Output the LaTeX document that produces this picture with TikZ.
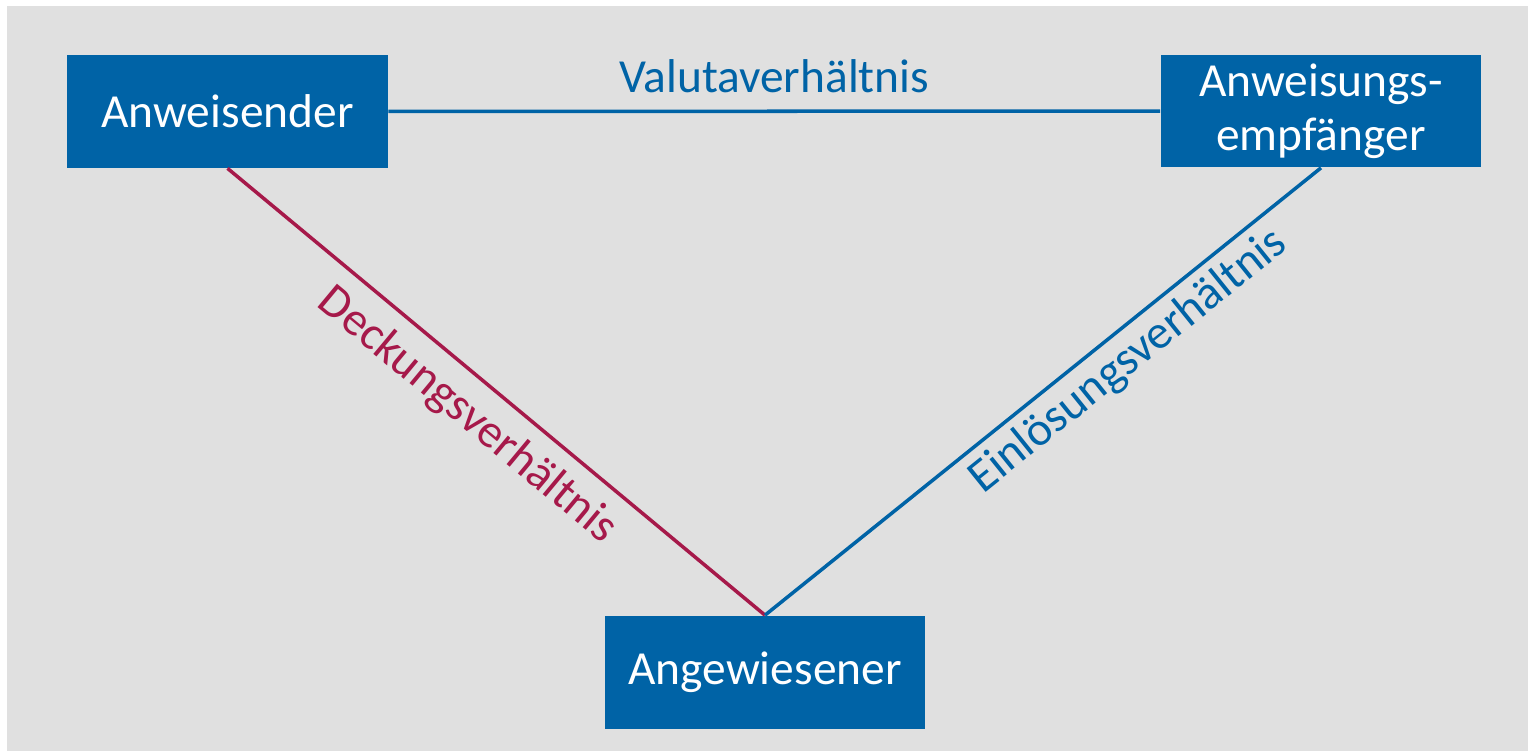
\documentclass[tikz,border=0pt]{standalone}
\usepackage{fontspec}
\setmainfont{Carlito}
\definecolor{boxblue}{RGB}{0,99,166}
\definecolor{linkred}{RGB}{166,25,74}
\definecolor{panel}{RGB}{224,224,224}
\begin{document}
\begin{tikzpicture}[x=0.02cm,y=-0.02cm,
		party/.style={fill=boxblue, text=white, minimum width=6.42cm, minimum height=2.26cm, align=center, inner sep=0pt, font=\fontsize{27}{31}\selectfont},
		rel/.style={line width=2pt},
		lbl/.style={font=\fontsize{27}{31}\selectfont}]
		\useasboundingbox (0,0) rectangle (1528,751);
		\fill [white] (0,0) rectangle (1528,751);
		\fill [panel] (7,6) rectangle (1528,751);
		
		\node [party] (anw) at (227.5,111.5) {Anweisender};
		\node [party] (empf) at (1321,111) {Anweisungs-\\empfänger};
		\node [party] (angew) at (765,672) {Angewiesener};
		
		\draw [rel,boxblue] (anw) -- node [above=6pt,lbl] {Valutaverhältnis} (empf);
		\draw [rel,linkred] (anw.south) -- node [pos=0.49,sloped,below=5pt,lbl] {Deckungsverhältnis} (angew.north);
		\draw [rel,boxblue] (angew.north) -- node [pos=0.62,sloped,below=1pt,lbl] {Einlösungsverhältnis} (empf.south);
	\end{tikzpicture}
\end{document}
